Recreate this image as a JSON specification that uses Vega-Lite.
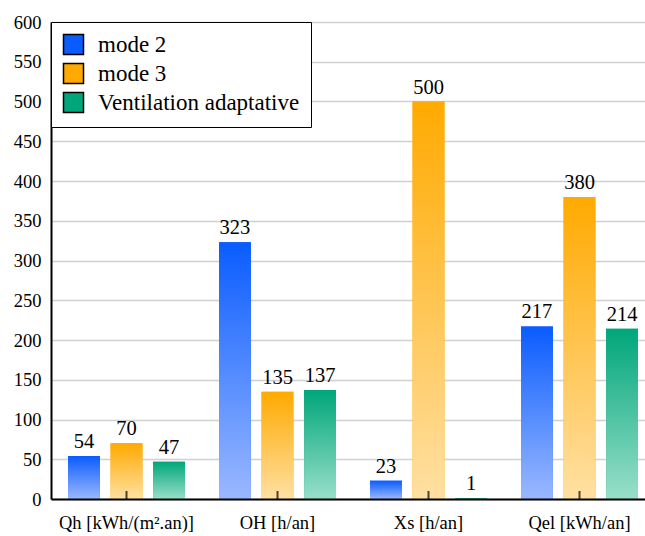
{
  "$schema": "https://vega.github.io/schema/vega-lite/v6.json",
  "autosize": "none",
  "width": 604,
  "height": 477,
  "padding": {"left": 51, "top": 22, "right": 0, "bottom": 37},
  "background": "white",
  "config": {
    "font": "Liberation Serif",
    "view": {"stroke": null}
  },
  "data": {
    "values": [
      {"cat": "Qh [kWh/(m².an)]", "series": "mode 2", "v": 54},
      {"cat": "Qh [kWh/(m².an)]", "series": "mode 3", "v": 70},
      {"cat": "Qh [kWh/(m².an)]", "series": "Ventilation adaptative", "v": 47},
      {"cat": "OH [h/an]", "series": "mode 2", "v": 323},
      {"cat": "OH [h/an]", "series": "mode 3", "v": 135},
      {"cat": "OH [h/an]", "series": "Ventilation adaptative", "v": 137},
      {"cat": "Xs [h/an]", "series": "mode 2", "v": 23},
      {"cat": "Xs [h/an]", "series": "mode 3", "v": 500},
      {"cat": "Xs [h/an]", "series": "Ventilation adaptative", "v": 1},
      {"cat": "Qel [kWh/an]", "series": "mode 2", "v": 217},
      {"cat": "Qel [kWh/an]", "series": "mode 3", "v": 380},
      {"cat": "Qel [kWh/an]", "series": "Ventilation adaptative", "v": 214}
    ]
  },
  "encoding": {
    "x": {
      "field": "cat", "type": "nominal", "sort": null,
      "scale": {"paddingInner": 0, "paddingOuter": 0},
      "axis": {
        "title": null, "labelAngle": 0, "labelFontSize": 18.5, "labelColor": "black",
        "labelFont": "Liberation Serif", "zindex": 1,
        "domainColor": "black", "domainWidth": 2, "ticks": false,
        "labelPadding": 14, "grid": false
      }
    },
    "xOffset": {
      "field": "series", "type": "nominal",
      "scale": {"domain": ["mode 2", "mode 3", "Ventilation adaptative"], "paddingInner": 0.25, "paddingOuter": 0.4}
    },
    "y": {
      "field": "v", "type": "quantitative",
      "scale": {"domain": [0, 600], "nice": false},
      "axis": {
        "title": null, "values": [0,50,100,150,200,250,300,350,400,450,500,550,600],
        "labelFontSize": 18.5, "labelColor": "black", "labelFont": "Liberation Serif",
        "domainColor": "black", "domainWidth": 2, "ticks": false, "labelPadding": 10,
        "gridColor": "#d0d0d0", "gridWidth": 1.5
      }
    }
  },
  "layer": [
    {
      "mark": {"type": "bar"},
      "encoding": {
        "color": {
          "field": "series", "type": "nominal",
          "scale": {"domain": ["mode 2", "mode 3", "Ventilation adaptative"], "range": ["#0a5cff", "#ffaa00", "#00a67a"]},
          "legend": {
            "title": null, "orient": "none", "legendX": 0, "legendY": 0,
            "strokeColor": "black", "fillColor": "white", "padding": 11,
            "symbolType": "square", "symbolSize": 400, "symbolStrokeColor": "black", "symbolStrokeWidth": 1.5,
            "labelFontSize": 23, "labelFont": "Liberation Serif", "labelColor": "black",
            "labelLimit": 0, "rowPadding": 2, "labelOffset": 13
          }
        }
      }
    },
    {
      "transform": [{"filter": "datum.series === 'mode 2'"}],
      "mark": {"type": "bar", "color": {"gradient": "linear", "x1": 0, "y1": 0, "x2": 0, "y2": 1,
        "stops": [{"offset": 0, "color": "#0a5cff"}, {"offset": 1, "color": "#9ab8ff"}]}}
    },
    {
      "transform": [{"filter": "datum.series === 'mode 3'"}],
      "mark": {"type": "bar", "color": {"gradient": "linear", "x1": 0, "y1": 0, "x2": 0, "y2": 1,
        "stops": [{"offset": 0, "color": "#ffaa00"}, {"offset": 1, "color": "#ffe0a3"}]}}
    },
    {
      "transform": [{"filter": "datum.series === 'Ventilation adaptative'"}],
      "mark": {"type": "bar", "color": {"gradient": "linear", "x1": 0, "y1": 0, "x2": 0, "y2": 1,
        "stops": [{"offset": 0, "color": "#00a67a"}, {"offset": 1, "color": "#99dfc9"}]}}
    },
    {
      "transform": [{"filter": "datum.series === 'mode 3'"}],
      "mark": {"type": "tick", "orient": "vertical", "color": "black", "thickness": 2, "size": 8, "yOffset": -4},
      "encoding": {
        "y": {"datum": 0, "type": "quantitative"}
      }
    },
    {
      "mark": {"type": "text", "baseline": "alphabetic", "dy": -8, "fontSize": 20.5, "font": "Liberation Serif", "color": "black"},
      "encoding": {"text": {"field": "v", "type": "quantitative"}}
    }
  ]
}
